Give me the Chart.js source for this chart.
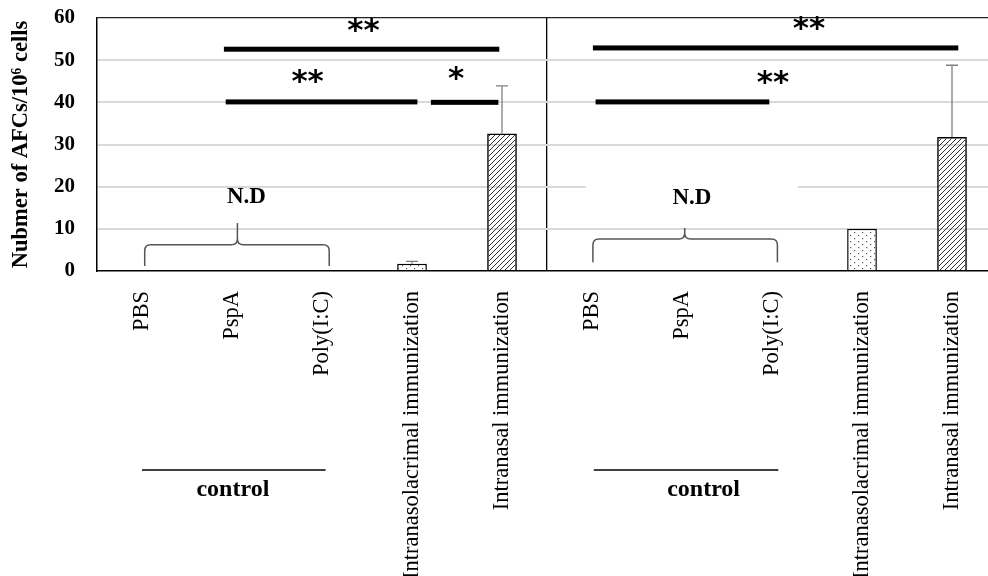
<!DOCTYPE html>
<html>
<head>
<meta charset="utf-8">
<script src="https://cdn.jsdelivr.net/npm/chart.js@4"></script>
<style>
  html, body { margin: 0; padding: 0; background: #fff; overflow: hidden; }
  #wrap { width: 988px; height: 576px; overflow: hidden; }
</style>
</head>
<body>
<div id="wrap"><canvas id="chart" width="997" height="576"></canvas></div>
<script>
// categories (two panels, same groups)
const groups = ["PBS", "PspA", "Poly(I:C)", "Intranasolacrimal immunization", "Intranasal immunization"];
const categories = [...groups, ...groups];

// AFCs per 10^6 cells, null = not detected
const afcValues = [null, null, null, 1.7, 32.6, null, null, null, 10.0, 31.8];
// upper end of error bars
const errorTops = [null, null, null, 2.3, 43.9, null, null, null, null, 48.8];

const yTicks = [0, 10, 20, 30, 40, 50, 60];

// significance bars: [fromIndex, toIndex, yValue, stars, starIndex, starY]
const sigLines = [
  [0.91, 3.97, 52.6, "**", 2.46, 57.9],
  [0.93, 3.06, 40.1, "**", 1.84, 45.8],
  [3.21, 3.96, 40.0, "*", 3.49, 46.5],
  [5.01, 9.07, 52.9, "**", 7.41, 58.3],
  [5.04, 6.97, 40.1, "**", 7.01, 45.5]
];
// N.D braces: [fromIndex, toIndex, peakIndex, bottomY, topY, peakY, textIndex, textY]
const braces = [
  [0.03, 2.08, 1.06, 1.2, 6.2, 11.4, 1.16, 17.5],
  [5.01, 7.06, 6.03, 2.1, 7.6, 10.2, 6.11, 17.3]
];
// control group underline: [fromIndex, toIndex, textIndex]
const controls = [
  [0.0, 2.04, 1.01],
  [5.02, 7.07, 6.24]
];

function makeHatch() {
  const c = document.createElement("canvas");
  c.width = 5; c.height = 5;
  const g = c.getContext("2d");
  g.strokeStyle = "#333";
  g.lineWidth = 1;
  g.beginPath();
  g.moveTo(-1, 6); g.lineTo(6, -1);
  g.moveTo(-1, 1); g.lineTo(1, -1);
  g.moveTo(4, 6); g.lineTo(6, 4);
  g.stroke();
  return g.createPattern(c, "repeat");
}
function makeDots() {
  const c = document.createElement("canvas");
  c.width = 8; c.height = 6;
  const g = c.getContext("2d");
  g.fillStyle = "#fff";
  g.fillRect(0, 0, 8, 6);
  g.fillStyle = "#555";
  g.fillRect(2, 1, 1.2, 1.2);
  g.fillRect(6, 4, 1.2, 1.2);
  return g.createPattern(c, "repeat");
}
const hatch = makeHatch();
const dots = makeDots();
const fills = categories.map((c) => c.startsWith("Intranasolacrimal") ? dots : hatch);

const gapPlugin = {
  id: "gridGap",
  beforeDatasetsDraw(chart) {
    const { ctx, scales: { x, y } } = chart;
    // label box hides gridline in right panel
    ctx.save();
    ctx.fillStyle = "#fff";
    const yy = y.getPixelForValue(20);
    ctx.fillRect(x.getPixelForValue(4.93), yy - 2, x.getPixelForValue(7.29) - x.getPixelForValue(4.93), 4);
    ctx.restore();
  }
};

const annotPlugin = {
  id: "annot",
  afterDatasetsDraw(chart) {
    const { ctx, scales: { x, y } } = chart;
    ctx.save();

    // error bars
    ctx.strokeStyle = "#808080";
    ctx.lineWidth = 1.3;
    errorTops.forEach((top, i) => {
      if (top == null || afcValues[i] == null) return;
      const px = x.getPixelForValue(i);
      const y0 = y.getPixelForValue(afcValues[i]);
      const y1 = y.getPixelForValue(top);
      ctx.beginPath();
      ctx.moveTo(px, y0); ctx.lineTo(px, y1);
      ctx.moveTo(px - 6, y1); ctx.lineTo(px + 6, y1);
      ctx.stroke();
    });

    // significance
    sigLines.forEach(([a, b, v, s, si, sy]) => {
      ctx.fillStyle = "#000";
      const yy = y.getPixelForValue(v);
      ctx.fillRect(x.getPixelForValue(a), yy - 2.5, x.getPixelForValue(b) - x.getPixelForValue(a), 5);
      ctx.font = "bold 31px 'DejaVu Sans'";
      ctx.textAlign = "center";
      ctx.textBaseline = "middle";
      ctx.fillText(s, x.getPixelForValue(si), y.getPixelForValue(sy) + 5);
    });

    // N.D braces
    braces.forEach(([a, b, p, yb, yt, yp, ti, ty]) => {
      const xa = x.getPixelForValue(a), xb = x.getPixelForValue(b), xp = x.getPixelForValue(p);
      const pb = y.getPixelForValue(yb), pt = y.getPixelForValue(yt), pp = y.getPixelForValue(yp);
      const r = 6;
      ctx.strokeStyle = "#555";
      ctx.lineWidth = 1.5;
      ctx.beginPath();
      ctx.moveTo(xa, pb);
      ctx.lineTo(xa, pt + r);
      ctx.quadraticCurveTo(xa, pt, xa + r, pt);
      ctx.lineTo(xp - r, pt);
      ctx.quadraticCurveTo(xp, pt, xp, pt - r);
      ctx.lineTo(xp, pp);
      ctx.moveTo(xp, pt - r);
      ctx.quadraticCurveTo(xp, pt, xp + r, pt);
      ctx.lineTo(xb - r, pt);
      ctx.quadraticCurveTo(xb, pt, xb, pt + r);
      ctx.lineTo(xb, pb);
      ctx.stroke();
      ctx.fillStyle = "#000";
      ctx.font = "bold 23px 'Liberation Serif'";
      ctx.textAlign = "center";
      ctx.textBaseline = "middle";
      ctx.fillText("N.D", x.getPixelForValue(ti), y.getPixelForValue(ty));
    });

    // control underline below the axis labels
    const base = x.top; // axis line
    controls.forEach(([a, b, ti]) => {
      ctx.strokeStyle = "#000";
      ctx.lineWidth = 1.3;
      ctx.beginPath();
      ctx.moveTo(x.getPixelForValue(a), base + 199);
      ctx.lineTo(x.getPixelForValue(b), base + 199);
      ctx.stroke();
      ctx.fillStyle = "#000";
      ctx.font = "bold 24px 'Liberation Serif'";
      ctx.textAlign = "center";
      ctx.textBaseline = "middle";
      ctx.fillText("control", x.getPixelForValue(ti), base + 219);
    });
    ctx.restore();
  }
};

new Chart(document.getElementById("chart"), {
  type: "bar",
  data: {
    labels: categories,
    datasets: [{
      data: afcValues,
      backgroundColor: fills,
      borderColor: "#000",
      borderWidth: 1.5,
      borderSkipped: "start",
      barPercentage: 0.33,
      categoryPercentage: 1
    }]
  },
  options: {
    responsive: false,
    animation: false,
    layout: { padding: { top: 18, left: 0, right: 0, bottom: 0 } },
    plugins: { legend: { display: false }, tooltip: { enabled: false } },
    scales: {
      x: {
        grid: {
          offset: true,
          drawTicks: false,
          color: (c) => (c.index === 5 ? "#000" : "rgba(0,0,0,0)"),
          lineWidth: 1.3
        },
        border: { display: true, color: "#000", width: 1.5 },
        ticks: {
          autoSkip: false,
          maxRotation: 90,
          minRotation: 90,
          padding: 20,
          color: "#000",
          font: { family: "'Liberation Serif'", size: 22.5 }
        },
        afterFit: (s) => {
          s.height = 305;
          s.paddingLeft = 0;
          s.paddingRight = 0;
        }
      },
      y: {
        min: 0,
        max: 60,
        afterBuildTicks: (s) => { s.ticks = yTicks.map((v) => ({ value: v })); },
        grid: {
          drawTicks: false,
          color: (c) => (c.tick.value === 60 ? "#222" : c.tick.value === 0 ? "rgba(0,0,0,0)" : "#d9d9d9"),
          lineWidth: (c) => (c.tick.value === 60 ? 1.3 : 2)
        },
        border: { display: true, color: "#000", width: 1.5 },
        ticks: {
          padding: 22,
          color: "#000",
          font: { family: "'Liberation Serif'", size: 21, weight: "bold" }
        },
        title: {
          display: true,
          text: "Nubmer of AFCs/10⁶ cells",
          color: "#000",
          padding: { top: 8, bottom: 0 },
          font: { family: "'Liberation Serif'", size: 22.5, weight: "bold" }
        },
        afterFit: (s) => {
          s.width = 97;
          s.paddingTop = 0;
          s.paddingBottom = 0;
        }
      }
    }
  },
  plugins: [gapPlugin, annotPlugin]
});
</script>
</body>
</html>
